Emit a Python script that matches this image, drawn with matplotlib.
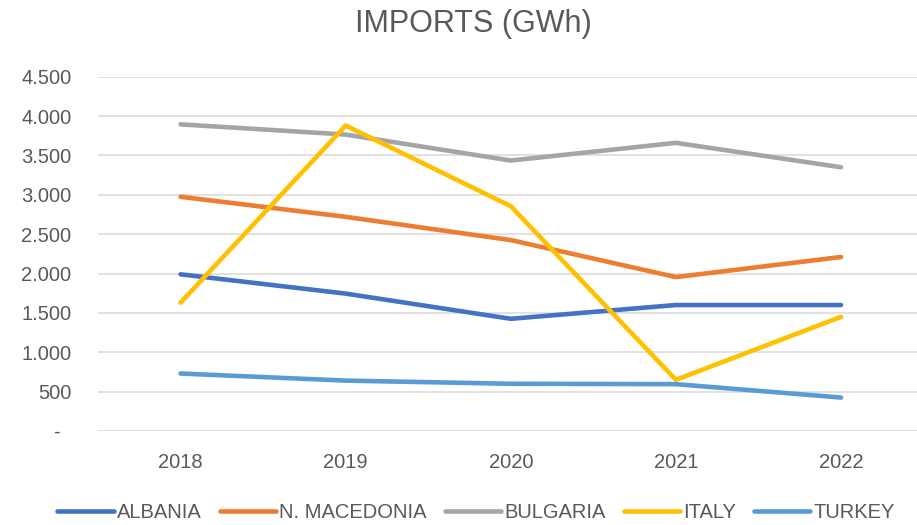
import matplotlib
matplotlib.use("Agg")
import matplotlib.pyplot as plt
from matplotlib.ticker import FuncFormatter

years = ["2018", "2019", "2020", "2021", "2022"]
albania = [1990, 1745, 1425, 1600, 1600]
n_macedonia = [2975, 2720, 2425, 1955, 2210]
bulgaria = [3895, 3765, 3435, 3660, 3350]
italy = [1630, 3880, 2855, 650, 1450]
turkey = [730, 640, 600, 595, 425]

series = [("ALBANIA", albania, "#4472C4"),
          ("N. MACEDONIA", n_macedonia, "#ED7D31"),
          ("BULGARIA", bulgaria, "#A5A5A5"),
          ("ITALY", italy, "#FFC000"),
          ("TURKEY", turkey, "#5B9BD5")]

plt.rcParams["font.family"] = ["Liberation Sans", "DejaVu Sans"]
TXT = "#595959"

fig = plt.figure(figsize=(9.17, 5.25), dpi=100)
ax = fig.add_axes([98 / 917, 1 - 431 / 525, 1 - 98 / 917, (431 - 76.7) / 525])

x = list(range(len(years)))
for name, vals, col in series:
    ax.plot(x, vals, color=col, lw=3.3, solid_capstyle="round", solid_joinstyle="round", label=name)

ax.set_xlim(-0.5, 4.46)
ax.set_ylim(0, 4500)
ax.set_yticks(range(0, 4501, 500))
ax.yaxis.set_major_formatter(FuncFormatter(
    lambda v, p: "-  " if v == 0 else f"{int(v):,}".replace(",", ".")))
ax.set_xticks(x)
ax.set_xticklabels(years)
ax.grid(axis="y", color="#D9D9D9", lw=1.1)
ax.set_axisbelow(True)
for s in ax.spines.values():
    s.set_visible(False)
ax.tick_params(axis="both", length=0, labelsize=14.5, colors=TXT)
ax.tick_params(axis="y", pad=19)
ax.tick_params(axis="x", pad=16)

fig.text(473 / 917, 1 - 24 / 525, "IMPORTS (GWh)", ha="center", va="center", fontsize=22, color=TXT)

fig.legend(loc="center", bbox_to_anchor=(476 / 917, 1 - 513 / 525), ncol=5, frameon=False,
           fontsize=14.5, handlelength=2.8, handletextpad=0.15, columnspacing=0.9,
           labelcolor=TXT)

fig.savefig("out.png", dpi=100)
